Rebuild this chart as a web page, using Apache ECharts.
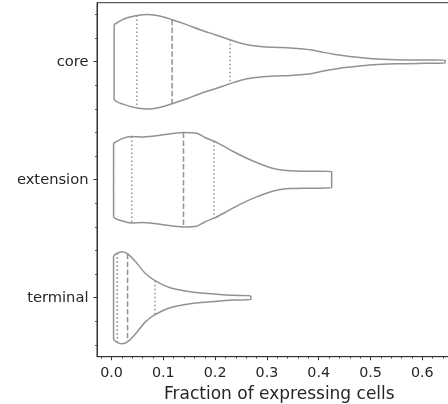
<!DOCTYPE html>
<html>
<head>
<meta charset="utf-8">
<script src="https://cdn.jsdelivr.net/npm/echarts@6/dist/echarts.min.js"></script>
<style>
html,body{margin:0;padding:0;background:#fff;}
#chart{width:448px;height:404px;}
</style>
</head>
<body>
<div id="chart"></div>
<script>
// Categories (top to bottom)
const categories = ['core', 'extension', 'terminal'];

// Violin outlines: x positions and half-widths (in category units)
const coreX    = [0.005, 0.025, 0.049, 0.071, 0.095, 0.117, 0.145, 0.171, 0.2, 0.229, 0.25, 0.274, 0.3, 0.319, 0.345, 0.37, 0.39, 0.409, 0.435, 0.46, 0.505, 0.55, 0.602, 0.644];
const coreHalf = [0.314, 0.364, 0.392, 0.401, 0.386, 0.356, 0.314, 0.271, 0.229, 0.186, 0.157, 0.136, 0.125, 0.121, 0.116, 0.108, 0.097, 0.079, 0.059, 0.045, 0.025, 0.017, 0.014, 0.013];

const extX    = [0.004, 0.023, 0.039, 0.06, 0.074, 0.094, 0.139, 0.164, 0.18, 0.198, 0.219, 0.235, 0.258, 0.28, 0.30, 0.319, 0.345, 0.383, 0.425];
const extHalf = [0.309, 0.352, 0.366, 0.362, 0.366, 0.377, 0.400, 0.394, 0.358, 0.326, 0.278, 0.239, 0.188, 0.146, 0.112, 0.089, 0.075, 0.072, 0.069];

const termX    = [0.004, 0.01, 0.02, 0.032, 0.049, 0.065, 0.084, 0.113, 0.152, 0.203, 0.235, 0.269];
const termHalf = [0.353, 0.376, 0.390, 0.370, 0.292, 0.207, 0.144, 0.085, 0.051, 0.030, 0.020, 0.015];

// Quartiles [Q1, median, Q3] and their half-widths
const coreQ     = [0.049, 0.117, 0.229];
const coreQHalf = [0.392, 0.356, 0.186];
const extQ      = [0.039, 0.139, 0.198];
const extQHalf  = [0.366, 0.400, 0.326];
const termQ     = [0.011, 0.031, 0.084];
const termQHalf = [0.378, 0.372, 0.144];

// Tick values
const xTicks = [0, 0.1, 0.2, 0.3, 0.4, 0.5, 0.6];
const xMinorTicks = [];
for (let k = -1; k <= 33; k++) { if (k % 5 !== 0) xMinorTicks.push(+(k * 0.02).toFixed(2)); }
const yTicks = [0, 1, 2];
const yMinorTicks = [];
for (let k = -2; k <= 12; k++) { if (k % 5 !== 0) yMinorTicks.push(+(k * 0.2).toFixed(1)); }

const outlineColor = '#929292';
const textColor = '#262626';
const spineColor = '#333333';
const font = 'DejaVu Sans';

function outline(xs, hs, c) {
  const pts = [];
  for (let i = 0; i < xs.length; i++) pts.push([xs[i], c - hs[i]]);
  for (let i = xs.length - 1; i >= 0; i--) pts.push([xs[i], c + hs[i]]);
  pts.push([xs[0], c - hs[0]]);
  return pts;
}

const series = [];
const violins = [
  [coreX, coreHalf, coreQ, coreQHalf],
  [extX, extHalf, extQ, extQHalf],
  [termX, termHalf, termQ, termQHalf]
];
violins.forEach(function (v, c) {
  series.push({
    type: 'line', xAxisIndex: 0, yAxisIndex: 0,
    data: outline(v[0], v[1], c),
    smooth: 0.3, symbol: 'none', silent: true,
    lineStyle: { color: outlineColor, width: 1.5 }
  });
  v[2].forEach(function (q, j) {
    series.push({
      type: 'line', xAxisIndex: 0, yAxisIndex: 0,
      data: [[q, c - v[3][j]], [q, c + v[3][j]]],
      symbol: 'none', silent: true,
      lineStyle: { color: outlineColor, width: 1.5, type: j === 1 ? [5.5, 2.4] : [1.6, 2.4] }
    });
  });
});

const chart = echarts.init(document.getElementById('chart'), null, { renderer: 'canvas' });
chart.setOption({
  animation: false,
  backgroundColor: '#ffffff',
  grid: { left: 97, top: 2.7, width: 364.7, height: 354, show: true, borderColor: spineColor, borderWidth: 1,
    containLabel: false, outerBoundsMode: 'none' },
  xAxis: [{
    type: 'value', min: -0.028, max: 0.676,
    axisLine: { show: true, onZero: false, lineStyle: { color: spineColor, width: 1 } },
    axisTick: { show: true, customValues: xTicks, length: 3.5, lineStyle: { color: spineColor, width: 1 } },
    axisLabel: { show: true, customValues: xTicks, margin: 9.5, fontSize: 14.3, fontFamily: font, color: textColor,
      formatter: function (v) { return (+v).toFixed(1); } },
    splitLine: { show: false },
    name: 'Fraction of expressing cells', nameLocation: 'middle', nameGap: 29.5,
    nameTextStyle: { fontSize: 17, fontFamily: font, color: textColor }
  }, {
    type: 'value', min: -0.028, max: 0.676, position: 'bottom',
    axisLine: { show: false, onZero: false },
    axisTick: { show: true, customValues: xMinorTicks, length: 2, lineStyle: { color: spineColor, width: 0.8 } },
    axisLabel: { show: false }, splitLine: { show: false }
  }],
  yAxis: [{
    type: 'value', min: -0.5, max: 2.5, inverse: true,
    axisLine: { show: true, onZero: false, lineStyle: { color: spineColor, width: 1 } },
    axisTick: { show: true, customValues: yTicks, length: 3.5, lineStyle: { color: spineColor, width: 1 } },
    axisLabel: { show: true, customValues: yTicks, margin: 8.5, fontSize: 14.7, fontFamily: font, color: textColor,
      formatter: function (v) { return categories[Math.round(v)]; } },
    splitLine: { show: false }
  }, {
    type: 'value', min: -0.5, max: 2.5, inverse: true, position: 'left',
    axisLine: { show: false, onZero: false },
    axisTick: { show: true, customValues: yMinorTicks, length: 2, lineStyle: { color: spineColor, width: 0.8 } },
    axisLabel: { show: false }, splitLine: { show: false }
  }],
  series: series
});
</script>
</body>
</html>
